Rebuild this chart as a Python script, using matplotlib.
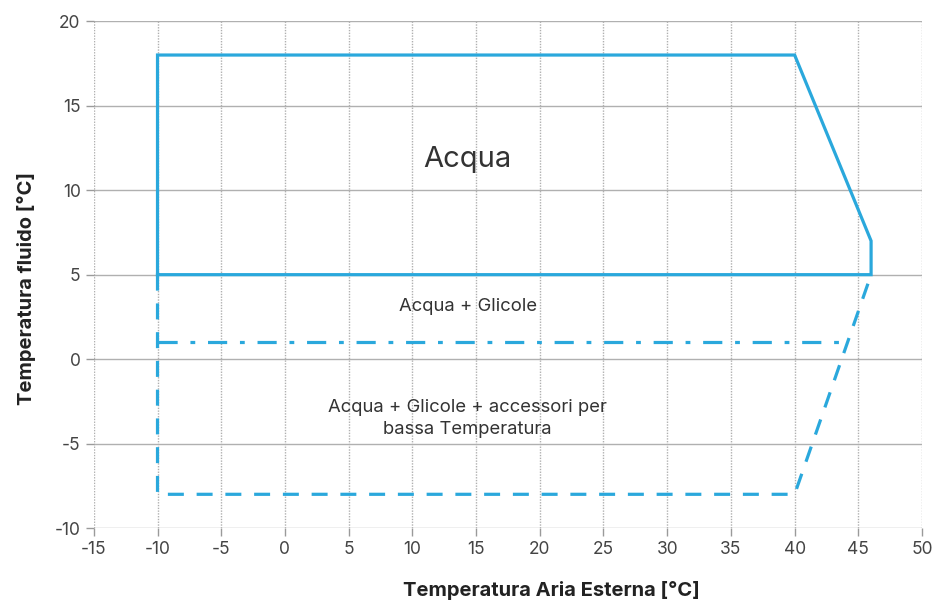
import matplotlib.pyplot as plt

# Limiti di funzionamento
acqua_x = [-10, -10, 40, 46, 46, -10]
acqua_y = [5, 18, 18, 7, 5, 5]

glicole_x = [-10, 43.8]
glicole_y = [1, 1]

bassa_x = [-10, -10, 40, 46]
bassa_y = [5, -8, -8, 5]

x_ticks = list(range(-15, 55, 5))
y_ticks = list(range(-10, 25, 5))

blu = "#2aa8dc"
plt.rcParams['font.family'] = ['Inter', 'DejaVu Sans']
plt.rcParams['axes.unicode_minus'] = False

fig = plt.figure(figsize=(9.38, 6.07), dpi=100)
ax = fig.add_axes([0.1, 0.13, 0.883, 0.835])

ax.plot(acqua_x, acqua_y, color=blu, lw=2.3, solid_joinstyle='miter')
ax.plot(glicole_x, glicole_y, color=blu, lw=2.3, linestyle=(0, (6, 4, 1.5, 4)))
ax.plot(bassa_x, bassa_y, color=blu, lw=2.3, linestyle=(0, (5, 4)))

ax.set_xlim(-15, 50)
ax.set_ylim(-10, 20)
ax.set_xticks(x_ticks)
ax.set_yticks(y_ticks)

for s in ax.spines.values():
    s.set_visible(False)
ax.set_axisbelow(True)
ax.yaxis.grid(True, color="#b0b0b0", lw=1, linestyle='-')
ax.xaxis.grid(True, color="#b0b0b0", lw=1, linestyle=(0, (1, 1)))
ax.tick_params(colors="#9a9a9a", labelcolor="#444444", labelsize=12.5, length=6, width=1)

ax.text(14.3, 11.8, "Acqua", ha='center', va='center', fontsize=21, color="#333333")
ax.text(14.4, 3.1, "Acqua + Glicole", ha='center', va='center', fontsize=13.3, color="#333333")
ax.text(14.35, -3.5, "Acqua + Glicole + accessori per\nbassa Temperatura", ha='center', va='center',
        fontsize=13.3, color="#333333", linespacing=1.35)

ax.set_xlabel("Temperatura Aria Esterna [°C]", fontsize=14.5, fontweight='bold', color="#222222")
ax.set_ylabel("Temperatura fluido [°C]", fontsize=14.5, fontweight='bold', color="#222222")
ax.xaxis.set_label_coords(0.553, -0.105)
ax.yaxis.set_label_coords(-0.070, 0.473)

plt.savefig('out.png')
plt.close()
